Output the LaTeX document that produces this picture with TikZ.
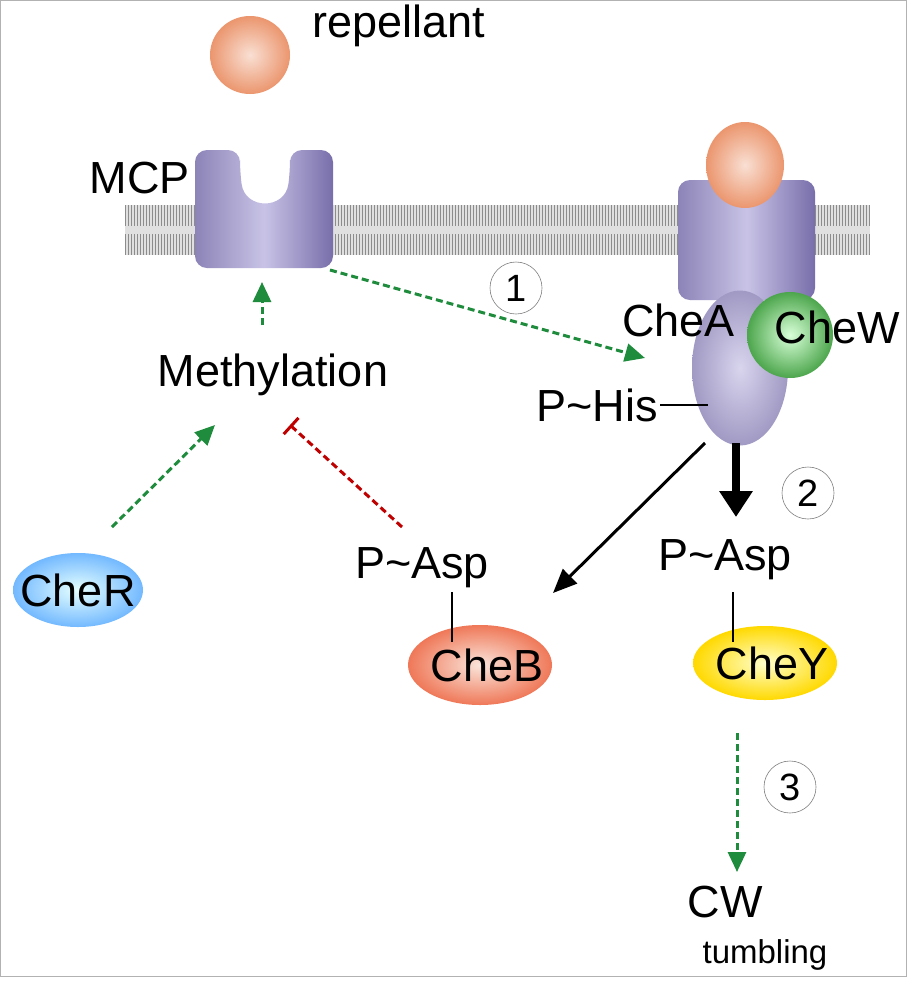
\documentclass[tikz,border=0pt]{standalone}
\usepackage{fontspec}
\setmainfont{Liberation Sans}
\usetikzlibrary{arrows.meta,shapes.geometric}
\definecolor{prot}{RGB}{120,110,170}
\definecolor{protl}{RGB}{200,195,230}
\definecolor{orng}{RGB}{235,150,110}
\definecolor{gr}{RGB}{30,140,60}
\tikzset{
 lbl/.style={font=\fontsize{45}{45}\selectfont,inner sep=0pt},
 num/.style={circle,draw=black!50,line width=0.6pt,minimum size=52pt,font=\fontsize{38}{38}\selectfont,inner sep=0pt},
 gdash/.style={gr,line width=3pt,dash pattern=on 7pt off 4pt,-{Triangle[length=20pt,width=18pt]}},
 ball/.style={ellipse,inner sep=0pt,shading=radial,inner color=orng!30,outer color=orng},
}
\begin{document}
\begin{tikzpicture}[x=1pt,y=-1pt]
\useasboundingbox (0,0) rectangle (914,994);
\fill[white] (0,0) rectangle (914,994);
\draw[black!30,line width=1pt] (0,0) rectangle (906,976);
% membrane
\fill[black!12] (125,205) rectangle (870,255);
\foreach \i in {0,...,248}{\draw[black!45,line width=0.8pt] (125+3*\i,205) -- (125+3*\i,226) (125+3*\i,234) -- (125+3*\i,255);}
% repellant
\node[ball,minimum width=80pt,minimum height=78pt] (rep) at (250,55) {};
\node[lbl,anchor=west] (replbl) at (312,26) {repellant};
% MCP
\shade[left color=prot!85,right color=prot,middle color=protl,rounded corners=12pt]
 (195,268) -- (195,150) -- (240,150) -- (240,172) .. controls (245,210) and (285,210) .. (290,172) -- (290,150) -- (333,150) -- (333,268) -- cycle;
\node[lbl,anchor=east] (mcp) at (190,178) {MCP};
% right receptor
\shade[left color=prot!85,right color=prot,middle color=protl,rounded corners=12pt] (678,180) rectangle (815,300);
\node[ball,minimum width=78pt,minimum height=86pt] (rep2) at (745,165) {};
% CheA, CheW
\node[ellipse,minimum width=96pt,minimum height=155pt,shading=radial,inner color=protl!70,outer color=prot!70] (chea) at (740,368) {};
\node[circle,minimum size=86pt,inner sep=0pt,shading=radial,inner color=green!15!white,outer color=green!50!black!70] (chew) at (790,335) {};
\node[lbl,anchor=east] (chewlbl) at (900,327) {CheW};
\node[lbl,anchor=east] (chealbl) at (735,320) {CheA};
\node[lbl,anchor=east] (phis) at (658,405) {P\char`~His};
\draw[line width=2.5pt] (phis.east) ++(2,0) -- (708,405);
% 1
\node[num] (n1) at (516,288) {1};
\coordinate (a1s) at (330,270);
\coordinate (a1e) at (645,358);
\draw[gdash] (a1s) -- (a1e);
% Methylation
\node[lbl] (meth) at (273,375) {Methylation};
\coordinate (m1) at (262,325);
\coordinate (m2) at (262,282);
\draw[gdash] (m1) -- (m2);
% CheR
\node[ellipse,minimum width=130pt,minimum height=74pt,shading=radial,inner color=cyan!10,outer color=cyan!50!blue!55,inner sep=0pt] (cher) at (78,590) {};
\node[lbl] at (78,590) {CheR};
\coordinate (r1) at (112,527);
\coordinate (r2) at (215,425);
\draw[gdash] (r1) -- (r2);
% red inhibition
\coordinate (b1) at (402,527);
\coordinate (b2) at (290,425);
\draw[red!75!black,line width=3pt,dash pattern=on 7pt off 4pt,-{Bar[width=22pt]}] (b1) -- (b2);
% CheB
\node[lbl] (pasp1) at (422,568) {P\char`~Asp};
\node[ellipse,minimum width=144pt,minimum height=80pt,shading=radial,inner color=orng!25,outer color=orng!80!red,inner sep=0pt] (cheb) at (480,665) {};
\node[lbl] at (487,665) {CheB};
\draw[line width=2.5pt] (452,592) -- (452,642);
% CheA -> CheB
\coordinate (c1) at (705,443);
\coordinate (c2) at (553,593);
\draw[line width=3pt,-{Triangle[length=24pt,width=20pt]}] (c1) -- (c2);
\coordinate (d1) at (736,443);
\coordinate (d2) at (736,517);
\draw[line width=8pt,-{Triangle[length=26pt,width=32pt]}] (d1) -- (d2);
\node[num] (n2) at (808,493) {2};
% CheY
\node[lbl] (pasp2) at (725,560) {P\char`~Asp};
\node[ellipse,minimum width=144pt,minimum height=74pt,shading=radial,inner color=yellow!20,outer color=yellow!70!orange,inner sep=0pt] (chey) at (765,663) {};
\node[lbl] at (772,663) {CheY};
\draw[line width=2.5pt] (733,592) -- (733,642);
% 3
\coordinate (e1) at (737,733);
\coordinate (e2) at (737,872);
\draw[gdash] (e1) -- (e2);
\node[num] (n3) at (790,787) {3};
\node[lbl] (cw) at (725,902) {CW};
\node[font=\fontsize{33}{33}\selectfont,inner sep=0pt] (tumb) at (765,955) {tumbling};
\end{tikzpicture}
\end{document}
